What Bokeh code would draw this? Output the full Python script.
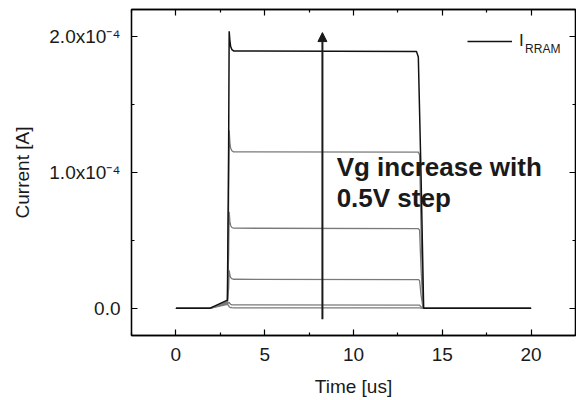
from bokeh.plotting import figure
from bokeh.models import (LinearAxis, FixedTicker, Range1d, Legend, LegendItem,
                          Label, Arrow, NormalHead)
from bokeh.embed import file_html
from bokeh.resources import INLINE

# ---------------- data (time in us, current in A) ----------------
t_black = [0, 1.9, 2.9, 2.97, 3.0, 3.04, 3.08, 3.15, 3.25, 13.55, 13.65, 13.8, 13.95, 20]
i_black = [0, 0, 0.06e-4, 1.2e-4, 2.04e-4, 1.97e-4, 1.93e-4, 1.905e-4, 1.895e-4,
           1.89e-4, 1.85e-4, 1.0e-4, 0, 0]

t_grey = [0, 1.9, 2.9, 2.97, 3.0, 3.04, 3.08, 3.15, 3.25, 13.65, 13.72, 13.8, 13.92, 20]
i_grey1 = [0, 0, 0.05e-4, 0.8e-4, 1.31e-4, 1.22e-4, 1.18e-4, 1.16e-4, 1.152e-4,
           1.15e-4, 1.13e-4, 0.6e-4, 0, 0]
i_grey2 = [0, 0, 0.045e-4, 0.4e-4, 0.71e-4, 0.64e-4, 0.61e-4, 0.595e-4, 0.59e-4,
           0.587e-4, 0.575e-4, 0.3e-4, 0, 0]
i_grey3 = [0, 0, 0.04e-4, 0.15e-4, 0.28e-4, 0.245e-4, 0.228e-4, 0.218e-4, 0.214e-4,
           0.212e-4, 0.205e-4, 0.1e-4, 0, 0]
i_grey4 = [0, 0, 0.035e-4, 0.04e-4, 0.045e-4, 0.035e-4, 0.03e-4, 0.026e-4, 0.025e-4,
           0.024e-4, 0.023e-4, 0.012e-4, 0, 0]
i_grey5 = [0, 0, 0.03e-4, 0.02e-4, 0.012e-4, 0.008e-4, 0.006e-4, 0.005e-4, 0.004e-4,
           0.004e-4, 0.004e-4, 0.002e-4, 0, 0]
grey_series = [i_grey5, i_grey4, i_grey3, i_grey2, i_grey1]

x_ticks = [0, 5, 10, 15, 20]
x_minor = [-2.5, 2.5, 7.5, 12.5, 17.5, 22.5]
y_ticks = [0.0, 1e-4, 2e-4]
y_minor = [0.5e-4, 1.5e-4]
y_tick_labels = ["0.0", "1.0x10\u207b\u2074", "2.0x10\u207b\u2074"]

annotation_lines = ["Vg increase with", "0.5V step"]

FONT = "Liberation Sans"
TXT = "#1a1a1a"

p = figure(frame_width=444, frame_height=326, output_backend="svg",
           toolbar_location=None, x_range=Range1d(-2.5, 22.5),
           y_range=Range1d(-0.2e-4, 2.2e-4),
           min_border_left=131, min_border_top=9, min_border_right=1,
           min_border_bottom=58, x_axis_type=None, y_axis_type=None)
p.background_fill_color = "white"
p.border_fill_color = "white"
p.outline_line_color = "black"
p.outline_line_width = 1.3
p.xgrid.visible = False
p.ygrid.visible = False


def style_axis(ax, show_labels):
    ax.axis_line_color = "black"
    ax.axis_line_width = 1.3
    ax.major_tick_in = 6
    ax.major_tick_out = 0
    ax.minor_tick_in = 3
    ax.minor_tick_out = 0
    ax.major_tick_line_color = "black"
    ax.minor_tick_line_color = "black"
    ax.major_tick_line_width = 1.2
    ax.minor_tick_line_width = 1.2
    if show_labels:
        ax.major_label_text_font = FONT
        ax.major_label_text_font_size = "19px"
        ax.major_label_text_color = TXT
        ax.axis_label_text_font = FONT
        ax.axis_label_text_font_size = "19px"
        ax.axis_label_text_font_style = "normal"
        ax.axis_label_text_color = TXT
    else:
        ax.major_label_text_font_size = "0px"
        ax.major_label_text_color = None
        ax.major_label_standoff = 0


xt = FixedTicker(ticks=x_ticks, minor_ticks=x_minor)
yt = FixedTicker(ticks=y_ticks, minor_ticks=y_minor)

xb = LinearAxis(ticker=xt, axis_label="Time [us]")
style_axis(xb, True)
xb.major_label_standoff = 12
xb.axis_label_standoff = 12
p.add_layout(xb, "below")

yl = LinearAxis(ticker=yt, axis_label="Current [A]")
style_axis(yl, True)
yl.major_label_overrides = {v: s for v, s in zip(y_ticks, y_tick_labels)}
yl.major_label_standoff = 11
yl.axis_label_standoff = 13
p.add_layout(yl, "left")

xa = LinearAxis(ticker=xt)
style_axis(xa, False)
p.add_layout(xa, "above")
yr = LinearAxis(ticker=yt)
style_axis(yr, False)
p.add_layout(yr, "right")

for s in grey_series:
    p.line(t_grey, s, line_color="#7a7a7a", line_width=1.3)
black = p.line(t_black, i_black, line_color="#111111", line_width=1.5)

# legend
leg = Legend(items=[LegendItem(label="I", renderers=[black])],
             location=(336, 284), padding=0, margin=0, spacing=0,
             glyph_width=45, label_standoff=7, border_line_color=None,
             background_fill_alpha=0, label_text_font=FONT,
             label_text_font_size="17px", label_text_color=TXT)
p.add_layout(leg)
p.add_layout(Label(x=19.66, y=1.86e-4, text="RRAM", text_font=FONT,
                   text_font_size="12px", text_color=TXT))

# arrow
p.add_layout(Arrow(end=NormalHead(size=9, fill_color="#1a1a1a", line_color="#1a1a1a"),
                   x_start=8.25, y_start=-0.08e-4, x_end=8.25, y_end=2.03e-4,
                   line_width=2, line_color="#1a1a1a"))

# annotation text
for txt, yy in zip(annotation_lines, [0.93e-4, 0.70e-4]):
    p.add_layout(Label(x=9.05, y=yy, text=txt, text_font=FONT,
                       text_font_size="26px", text_font_style="bold",
                       text_color=TXT))

open("out.html", "w").write(file_html(p, INLINE))
